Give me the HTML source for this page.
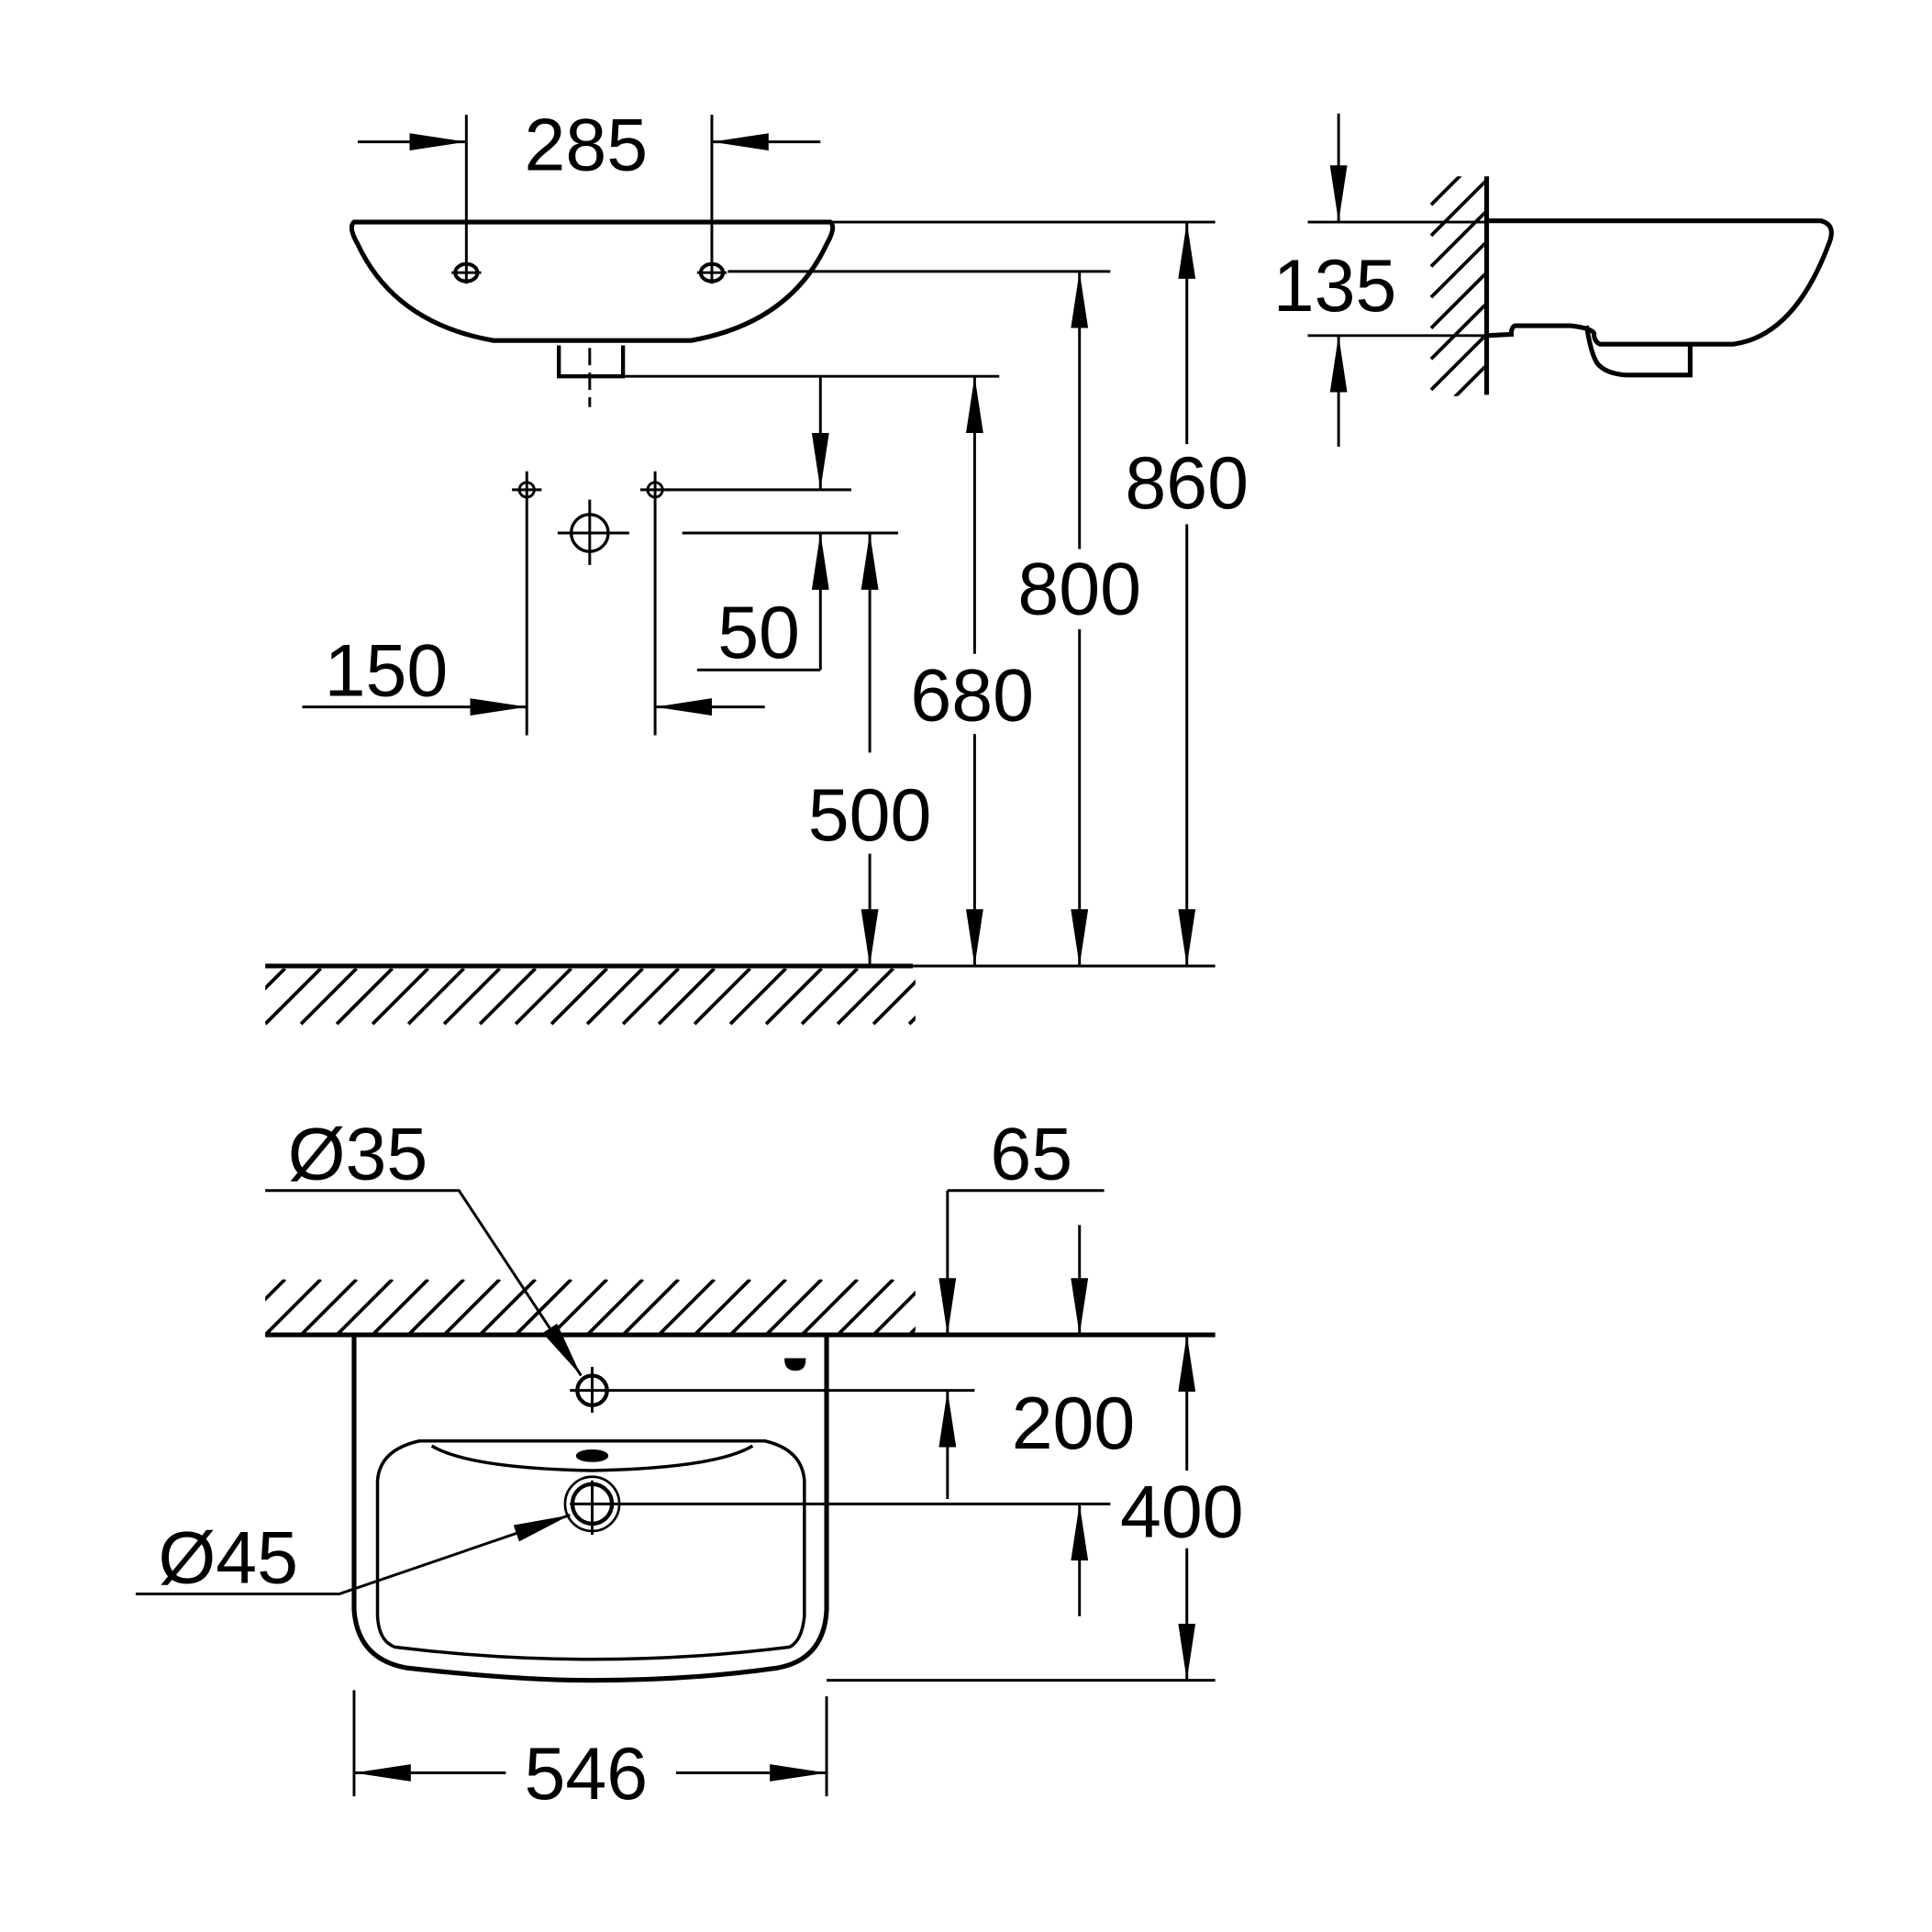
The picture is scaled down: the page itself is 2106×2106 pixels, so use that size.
<!DOCTYPE html>
<html><head><style>html,body{margin:0;padding:0;background:#fff}svg{display:block}</style></head><body>
<svg width="2106" height="2106" viewBox="0 0 1566 1566" xmlns="http://www.w3.org/2000/svg">
<defs>
<marker id="a" viewBox="0 0 46 14" refX="46" refY="7" markerWidth="46" markerHeight="14" markerUnits="userSpaceOnUse" orient="auto">
<path d="M0,0 L46,7 L0,14 Z" fill="#000"/></marker>
<clipPath id="c1"><rect x="215" y="785" width="527" height="46"/></clipPath>
<clipPath id="c2"><rect x="215" y="1037" width="527" height="44"/></clipPath>
<clipPath id="c3"><rect x="1158" y="143" width="45" height="178"/></clipPath>
</defs>
<g stroke="#000" stroke-width="2.8" fill="none">
<path clip-path="url(#c1)" d="M186,830l45,-45M215,830l45,-45M244,830l45,-45M273,830l45,-45M302,830l45,-45M331,830l45,-45M360,830l45,-45M389,830l45,-45M418,830l45,-45M447,830l45,-45M476,830l45,-45M505,830l45,-45M534,830l45,-45M563,830l45,-45M592,830l45,-45M621,830l45,-45M650,830l45,-45M679,830l45,-45M708,830l45,-45M737,830l45,-45"/>
<path clip-path="url(#c2)" d="M186,1082l45,-45M215,1082l45,-45M244,1082l45,-45M273,1082l45,-45M302,1082l45,-45M331,1082l45,-45M360,1082l45,-45M389,1082l45,-45M418,1082l45,-45M447,1082l45,-45M476,1082l45,-45M505,1082l45,-45M534,1082l45,-45M563,1082l45,-45M592,1082l45,-45M621,1082l45,-45M650,1082l45,-45M679,1082l45,-45M708,1082l45,-45M737,1082l45,-45"/>
<path clip-path="url(#c3)" d="M1160,166l45,-45M1160,191l45,-45M1160,216l45,-45M1160,241l45,-45M1160,266l45,-45M1160,291l45,-45M1160,316l45,-45M1160,341l45,-45M1160,366l45,-45"/>
</g>
<g fill="none" stroke="#000" stroke-width="2.2">
<path d="M287,180 L673,180 Q678,184 670,198 Q640,262 560,276 L400,276 Q320,262 290,198 Q282,184 287,180 Z" stroke-width="3.8"/>
<path d="M453,280 L453,305 L505,305 L505,280" stroke-width="3.2"/>
<line x1="478" y1="282" x2="478" y2="330" stroke-dasharray="14,6"/>
<ellipse cx="378" cy="221" rx="9" ry="7" stroke-width="3"/>
<ellipse cx="577" cy="221" rx="9" ry="7" stroke-width="3"/>
<line x1="366" y1="221" x2="390" y2="221"/><line x1="565" y1="221" x2="589" y2="221"/>
<line x1="378" y1="93" x2="378" y2="230"/><line x1="577" y1="93" x2="577" y2="230"/>
<line x1="290" y1="115" x2="378" y2="115" marker-end="url(#a)"/>
<line x1="665" y1="115" x2="577" y2="115" marker-end="url(#a)"/>
<line x1="673" y1="180" x2="985" y2="180"/>
<line x1="590" y1="220" x2="900" y2="220"/>
<line x1="505" y1="305" x2="810" y2="305"/>
<line x1="962" y1="360" x2="962" y2="180" marker-end="url(#a)"/>
<line x1="962" y1="425" x2="962" y2="783" marker-end="url(#a)"/>
<line x1="875" y1="445" x2="875" y2="220" marker-end="url(#a)"/>
<line x1="875" y1="510" x2="875" y2="783" marker-end="url(#a)"/>
<line x1="790" y1="530" x2="790" y2="305" marker-end="url(#a)"/>
<line x1="790" y1="595" x2="790" y2="783" marker-end="url(#a)"/>
<line x1="705" y1="610" x2="705" y2="432" marker-end="url(#a)"/>
<line x1="705" y1="692" x2="705" y2="783" marker-end="url(#a)"/>
<line x1="665" y1="305" x2="665" y2="397" marker-end="url(#a)"/>
<line x1="665" y1="543" x2="665" y2="432" marker-end="url(#a)"/>
<line x1="540" y1="397" x2="690" y2="397"/>
<line x1="553" y1="432" x2="728" y2="432"/>
<line x1="565" y1="543" x2="665" y2="543"/>
<circle cx="427" cy="397" r="6"/><line x1="415" y1="397" x2="439" y2="397"/>
<circle cx="531" cy="397" r="6"/><line x1="519" y1="397" x2="543" y2="397"/>
<circle cx="478" cy="432" r="15" stroke-width="2.5"/>
<line x1="452" y1="432" x2="510" y2="432"/><line x1="478" y1="405" x2="478" y2="458"/>
<line x1="427" y1="382" x2="427" y2="596"/><line x1="531" y1="382" x2="531" y2="596"/>
<line x1="245" y1="573" x2="427" y2="573" marker-end="url(#a)"/>
<line x1="620" y1="573" x2="531" y2="573" marker-end="url(#a)"/>
<line x1="215" y1="783" x2="740" y2="783" stroke-width="3.8"/>
<line x1="740" y1="783" x2="985" y2="783"/>
<line x1="1205" y1="143" x2="1205" y2="320" stroke-width="3.8"/>
<path d="M1205,179 L1476,179 Q1488,182 1483,196 Q1455,272 1405,279 L1297,279 Q1292,277 1292,270 Q1290,266 1273,264 L1228,264 Q1225,265 1225,271 L1205,272" stroke-width="3.8"/>
<path d="M1286,264 Q1290,290 1296,296 Q1303,303 1318,304 L1370,304 L1370,280" stroke-width="3.8"/>
<line x1="1060" y1="180" x2="1205" y2="180"/>
<line x1="1060" y1="272" x2="1205" y2="272"/>
<line x1="1085" y1="92" x2="1085" y2="180" marker-end="url(#a)"/>
<line x1="1085" y1="362" x2="1085" y2="272" marker-end="url(#a)"/>
<line x1="215" y1="1082" x2="985" y2="1082" stroke-width="3.8"/>
<path d="M287,1082 L287,1305 Q290,1345 330,1352 Q420,1362 480,1362 Q560,1362 630,1352 Q668,1345 670,1305 L670,1082" stroke-width="3.8"/>
<path d="M340,1168 L620,1168 Q650,1175 652,1200 L652,1310 Q650,1330 640,1335 Q560,1345 480,1345 Q400,1345 320,1335 Q307,1330 306,1310 L306,1200 Q308,1175 340,1168 Z" stroke-width="2.6"/>
<path d="M350,1172 Q380,1190 480,1192 Q580,1190 610,1172" stroke-width="2.6"/>
<ellipse cx="480" cy="1180" rx="12" ry="4" fill="#000"/>
<path d="M637,1102 L652,1102 Q652,1110 645,1110 Q637,1110 637,1102 Z" fill="#000"/>
<circle cx="480" cy="1127" r="12" stroke-width="3.2"/>
<line x1="462" y1="1127" x2="493" y2="1127"/><line x1="480" y1="1108" x2="480" y2="1145"/>
<circle cx="480" cy="1219" r="22" stroke-width="2"/>
<circle cx="480" cy="1219" r="16" stroke-width="3.2"/>
<line x1="462" y1="1219" x2="900" y2="1219"/><line x1="480" y1="1200" x2="480" y2="1244"/>
<line x1="493" y1="1127" x2="790" y2="1127"/>
<line x1="670" y1="1362" x2="985" y2="1362"/>
<polyline points="215,965 372,965 471,1115" marker-end="url(#a)"/>
<polyline points="110,1292 275,1292 462,1228" marker-end="url(#a)"/>
<line x1="768" y1="965" x2="895" y2="965"/>
<line x1="768" y1="965" x2="768" y2="1082" marker-end="url(#a)"/>
<line x1="875" y1="993" x2="875" y2="1082" marker-end="url(#a)"/>
<line x1="768" y1="1215" x2="768" y2="1127" marker-end="url(#a)"/>
<line x1="875" y1="1310" x2="875" y2="1219" marker-end="url(#a)"/>
<line x1="962" y1="1192" x2="962" y2="1082" marker-end="url(#a)"/>
<line x1="962" y1="1255" x2="962" y2="1362" marker-end="url(#a)"/>
<line x1="287" y1="1370" x2="287" y2="1456"/><line x1="670" y1="1375" x2="670" y2="1456"/>
<line x1="410" y1="1437" x2="287" y2="1437" marker-end="url(#a)"/>
<line x1="548" y1="1437" x2="670" y2="1437" marker-end="url(#a)"/>
</g>
<g font-family="Liberation Sans, sans-serif" font-size="60" text-anchor="middle" fill="#000">
<text x="475" y="138">285</text>
<text x="1082" y="252">135</text>
<text x="962" y="412">860</text>
<text x="875" y="498">800</text>
<text x="788" y="584">680</text>
<text x="705" y="681">500</text>
<text x="615" y="533">50</text>
<text x="313" y="564">150</text>
<text x="290" y="956">Ø35</text>
<text x="836" y="956">65</text>
<text x="870" y="1174">200</text>
<text x="958" y="1246">400</text>
<text x="185" y="1283">Ø45</text>
<text x="475" y="1458">546</text>
</g>
</svg>
</body></html>
